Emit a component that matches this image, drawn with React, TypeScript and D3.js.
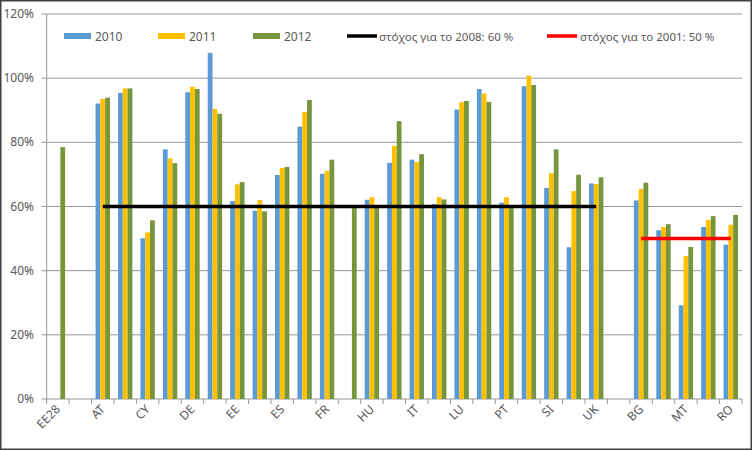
import React from "react";
import * as d3 from "d3";

const categories = ["EE28", "", "AT", "BE", "CY", "CZ", "DE", "DK", "EE", "EL", "ES", "FI", "FR", "HR", "HU", "IE", "IT", "LT", "LU", "NL", "PT", "SE", "SI", "SK", "UK", "", "BG", "LV", "MT", "PL", "RO"];
const values2010 = [null, null, 92.1, 95.4, 50.1, 77.8, 95.6, 107.9, 61.7, 58.7, 69.8, 84.9, 70.2, null, 62.1, 73.6, 74.6, 60.8, 90.2, 96.6, 61.2, 97.5, 65.8, 47.3, 67.2, null, 61.9, 52.6, 29.2, 53.6, 48.1];
const values2011 = [null, null, 93.5, 96.8, 51.9, 75.0, 97.3, 90.4, 66.9, 62.0, 72.0, 89.5, 71.1, null, 62.9, 78.9, 73.9, 62.9, 92.5, 95.2, 62.9, 100.8, 70.4, 64.8, 67.0, null, 65.5, 53.6, 44.6, 55.8, 54.3];
const values2012 = [78.5, null, 93.9, 96.8, 55.7, 73.5, 96.6, 88.9, 67.6, 58.5, 72.3, 93.2, 74.6, 59.5, 59.5, 86.6, 76.3, 62.2, 92.9, 92.6, 59.5, 97.9, 77.8, 69.9, 69.1, null, 67.4, 54.5, 47.4, 57.0, 57.4];
const target2008 = [null, null, 60, 60, 60, 60, 60, 60, 60, 60, 60, 60, 60, 60, 60, 60, 60, 60, 60, 60, 60, 60, 60, 60, 60, null, null, null, null, null, null];
const target2001 = [null, null, null, null, null, null, null, null, null, null, null, null, null, null, null, null, null, null, null, null, null, null, null, null, null, null, 50, 50, 50, 50, 50];
const yTicks = [0, 20, 40, 60, 80, 100, 120];

const barSeries = [
  { name: "2010", values: values2010, color: "#5B9BD5" },
  { name: "2011", values: values2011, color: "#FFC000" },
  { name: "2012", values: values2012, color: "#77953D" },
];
const lineSeries = [
  { name: "στόχος για το 2008: 60 %", values: target2008, color: "#000000" },
  { name: "στόχος για το 2001: 50 %", values: target2001, color: "#FF0000" },
];

const W = 752;
const H = 450;
const left = 46.7;
const right = 742;
const top = 14;
const bottom = 399;
const font = "'Noto Sans', 'DejaVu Sans', sans-serif";
const textColor = "#595959";
const gridColor = "#989898";

export default function App() {
  const idx = categories.map((_, i) => i);
  const x = d3.scaleBand<number>().domain(idx).range([left, right]).padding(0);
  const x1 = d3.scaleBand<number>().domain([0, 1, 2]).range([0, x.bandwidth()]).paddingInner(0).paddingOuter(0.84);
  const y = d3.scaleLinear().domain([0, 120]).range([bottom, top]);
  const cx = (i: number) => (x(i) as number) + x.bandwidth() / 2;

  const line = d3
    .line<number | null>()
    .defined((d) => d != null)
    .x((_, i) => cx(i))
    .y((d) => y(d as number));

  const legendBars = [
    { x: 64, tx: 95 },
    { x: 158, tx: 189 },
    { x: 253, tx: 284 },
  ];
  const legendLines = [
    { x: 347, tx: 379 },
    { x: 547, tx: 580 },
  ];

  return (
    <div style={{ position: "absolute", left: 0, top: 0 }}>
      <svg width={W} height={H} style={{ display: "block" }}>
        <rect x={0} y={0} width={W} height={H} fill="#fff" />
        <rect x={0.75} y={0.75} width={W - 1.5} height={H - 1.5} fill="none" stroke="#404040" strokeWidth={1.5} />
        {yTicks.map((t) => (
          <g key={t}>
            <line x1={left - 5} x2={right} y1={y(t)} y2={y(t)} stroke={gridColor} strokeWidth={1} />
            <text x={34} y={y(t) + 4} textAnchor="end" fontSize={12} fontFamily={font} fill={textColor}>
              {t}%
            </text>
          </g>
        ))}
        <line x1={left} x2={left} y1={top} y2={bottom} stroke={gridColor} />
        {d3.range(categories.length + 1).map((i) => {
          const xx = left + i * x.step();
          return <line key={i} x1={xx} x2={xx} y1={bottom} y2={bottom + 5} stroke={gridColor} />;
        })}
        {barSeries.map((s, si) => (
          <g key={s.name}>
            {s.values.map((v, i) =>
              v == null ? null : (
                <rect
                  key={i}
                  x={(x(i) as number) + (x1(si) as number)}
                  y={y(v)}
                  width={x1.bandwidth()}
                  height={bottom - y(v)}
                  fill={s.color}
                />
              )
            )}
          </g>
        ))}
        {lineSeries.map((s) => (
          <path key={s.name} d={line(s.values) || ""} fill="none" stroke={s.color} strokeWidth={3.5} />
        ))}
        {categories.map((c, i) =>
          i % 2 === 0 ? (
            <text
              key={i}
              transform={`translate(${cx(i) + 3},${bottom + 11}) rotate(-45)`}
              textAnchor="end"
              fontSize={12}
              fontFamily={font}
              fill={textColor}
            >
              {c}
            </text>
          ) : null
        )}
        {barSeries.map((s, si) => (
          <g key={s.name}>
            <rect x={legendBars[si].x} y={33} width={27} height={6} fill={s.color} />
            <text x={legendBars[si].tx} y={40.5} fontSize={12} fontFamily={font} fill={textColor}>
              {s.name}
            </text>
          </g>
        ))}
        {lineSeries.map((s, li) => (
          <g key={s.name}>
            <line x1={legendLines[li].x} x2={legendLines[li].x + 30} y1={36} y2={36} stroke={s.color} strokeWidth={3.5} />
            <text x={legendLines[li].tx} y={40.5} fontSize={11.5} fontFamily={font} fill={textColor}>
              {s.name}
            </text>
          </g>
        ))}
      </svg>
    </div>
  );
}
